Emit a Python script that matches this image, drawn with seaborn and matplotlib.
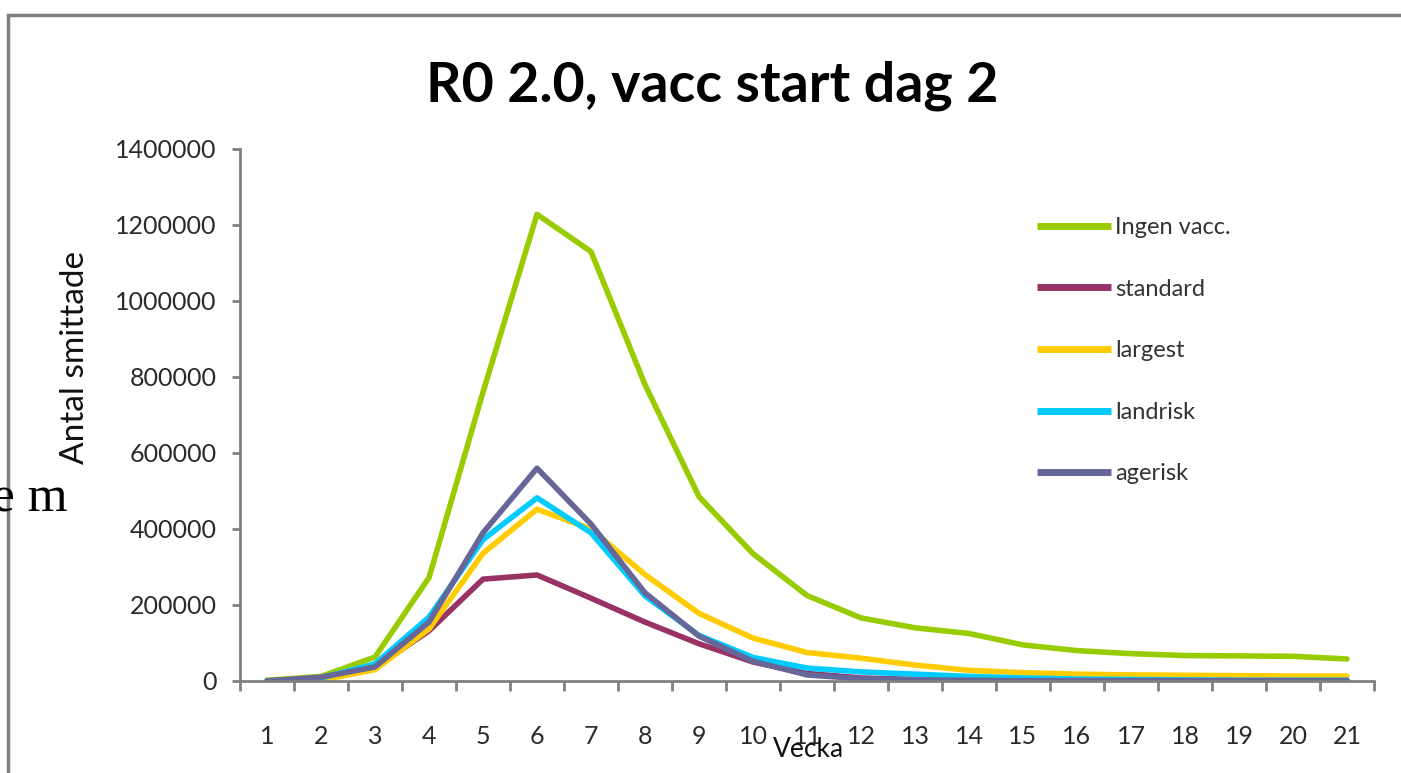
import matplotlib
matplotlib.use("Agg")
import matplotlib.pyplot as plt
import seaborn as sns
import pandas as pd
from matplotlib.patches import Rectangle
from matplotlib.ticker import FixedLocator

weeks = list(range(1, 22))
ingen_vacc = [2000, 12000, 63000, 272000, 760000, 1228000, 1130000, 780000, 485000, 335000,
              225000, 166000, 140000, 125000, 95000, 80000, 72000, 67000, 66000, 65000, 58000]
standard = [0, 5000, 35000, 132000, 268000, 279000, 218000, 155000, 98000, 50000,
            20000, 8000, 4000, 2000, 1500, 1000, 1000, 1000, 1000, 1000, 1000]
largest = [0, 2000, 30000, 137000, 336000, 452000, 400000, 280000, 178000, 113000,
           75000, 60000, 42000, 28000, 22000, 18000, 16000, 15000, 14000, 13000, 13000]
landrisk = [0, 8000, 45000, 168000, 372000, 482000, 390000, 224000, 120000, 62000,
            34000, 24000, 18000, 12000, 8000, 5000, 4000, 3000, 2000, 2000, 2000]
agerisk = [0, 10000, 37000, 155000, 390000, 560000, 413000, 232000, 118000, 52000,
           16000, 6000, 3000, 2000, 1000, 1000, 1000, 1000, 1000, 1000, 1000]
series_names = ["Ingen vacc.", "standard", "largest", "landrisk", "agerisk"]
colors = ["#99CC00", "#993366", "#FFCC00", "#00CCFF", "#666699"]
y_ticks = [0, 200000, 400000, 600000, 800000, 1000000, 1200000, 1400000]
title = "R0 2.0, vacc start dag 2"

frames = []
for name, vals in zip(series_names, [ingen_vacc, standard, largest, landrisk, agerisk]):
    frames.append(pd.DataFrame({"Vecka": weeks, "Antal": vals, "serie": name}))
df = pd.concat(frames, ignore_index=True)

sns.set_theme(style="white")
FONT = ["Lato", "DejaVu Sans"]
plt.rcParams["font.family"] = FONT

W, H = 1401, 773
fig = plt.figure(figsize=(W / 100, H / 100), dpi=100)
ax = fig.add_axes([240 / W, 1 - 681 / H, (1374 - 240) / W, (681 - 149) / H])

sns.lineplot(data=df, x="Vecka", y="Antal", hue="serie", hue_order=series_names,
             palette=colors, linewidth=4.0, ax=ax, legend=True)

ax.set_xlim(0.5, 21.5)
ax.set_ylim(0, 1400000)
ax.set_yticks(y_ticks)
ax.set_yticklabels([str(v) for v in y_ticks], fontsize=18, color="#2a2a2a")
ax.set_xticks(weeks)
ax.set_xticklabels([str(w) for w in weeks], fontsize=18, color="#2a2a2a")
ax.xaxis.set_minor_locator(FixedLocator([w + 0.5 for w in range(0, 22)]))
ax.tick_params(axis="x", which="major", length=0, pad=32)
ax.tick_params(axis="x", which="minor", length=7.5, width=2, color="#808080", bottom=True)
ax.tick_params(axis="y", which="major", length=6, width=2, color="#808080", left=True, pad=11)
for side in ["top", "right"]:
    ax.spines[side].set_visible(False)
for side in ["left", "bottom"]:
    ax.spines[side].set_color("#808080")
    ax.spines[side].set_linewidth(2)
ax.grid(False)

ax.set_xlabel("Vecka", fontsize=19, color="#111111")
ax.xaxis.set_label_coords((808 - 240) / (1374 - 240), -(737 - 681) / (681 - 149))
ax.set_ylabel("Antal smittade", fontsize=24, color="#111111")
ax.yaxis.set_label_coords(-(240 - 90) / (1374 - 240), (681 - 357) / (681 - 149))

fig.text(712 / W, 1 - 86 / H, title, ha="center", va="center", fontsize=40,
         fontweight="bold", color="black")

leg = ax.legend(loc="upper left", bbox_to_anchor=(1037 / W, 1 - 217 / H),
                bbox_transform=fig.transFigure, frameon=False, fontsize=17,
                handlelength=3.15, handletextpad=0.15, labelspacing=1.72,
                borderpad=0, borderaxespad=0)
for t in leg.get_texts():
    t.set_color("#333333")
for l in leg.get_lines():
    l.set_linewidth(5)
    l.set_solid_capstyle("butt")

# frame of the embedded chart
fig.patches.append(Rectangle((8 / W, -0.1), 1.2, 1 - 15 / H + 0.1, transform=fig.transFigure,
                             fill=False, edgecolor="#808080", linewidth=2.5, zorder=0))
# surrounding document text fragment
fig.text(68 / W, 1 - 512 / H, "e m", ha="right", va="baseline", fontsize=37,
         family="Liberation Serif", color="black")

fig.savefig("out.png", dpi=100)
